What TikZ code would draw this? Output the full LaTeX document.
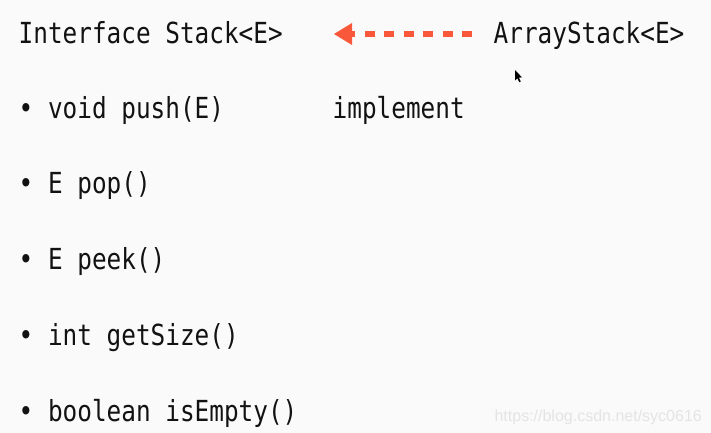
\documentclass[tikz,border=0pt]{standalone}
\usepackage{fontspec}
\usetikzlibrary{arrows.meta}
\newfontfamily\monofam[FakeStretch=0.84]{DejaVu Sans Mono}
\newfontfamily\wmfam{Liberation Sans}
\definecolor{bgc}{HTML}{FAFAFA}
\definecolor{txtc}{HTML}{121212}
\definecolor{arrc}{HTML}{F9583A}
\definecolor{wmc}{HTML}{E4E4E4}
\tikzset{
  codetext/.style={inner sep=0pt, anchor=base west, text=txtc, font=\monofam\fontsize{29}{29}\selectfont},
  wmtext/.style={inner sep=0pt, anchor=base east, text=wmc, font=\wmfam\fontsize{16}{16}\selectfont},
  implarrow/.style={draw=arrc, line width=6pt, dash pattern=on 10pt off 9.5pt,
    -{Triangle[length=18pt,width=22pt,line width=0pt]}}
}
\begin{document}
\begin{tikzpicture}[x=1pt,y=-1pt]
\fill[bgc] (0,0) rectangle (711,433);
\useasboundingbox (0,0) rectangle (711,433);
\node[codetext] (iface) at (18.5,44) {Interface Stack<E>};
\node[codetext] (impl) at (493.5,44) {ArrayStack<E>};
\node[codetext] (lbl) at (332.5,118) {implement};
\node[codetext] (m1) at (18.5,118) {• void push(E)};
\node[codetext] (m2) at (18.5,193.8) {• E pop()};
\node[codetext] (m3) at (18.5,269.5) {• E peek()};
\node[codetext] (m4) at (18.5,345.3) {• int getSize()};
\node[codetext] (m5) at (18.5,421) {• boolean isEmpty()};
\draw[implarrow] ([yshift=10pt]impl.base west) ++(-21.5,0) coordinate (as) (as) -- (as -| {334,0});
\node[wmtext] (wm) at (702,421) {https://blog.csdn.net/syc0616};
\fill[black] (515,70) -- (515,80.5) -- (517.3,78.3) -- (519.3,82.2) -- (520.8,81.4) -- (518.9,77.6) -- (522,77.4) -- cycle;
\end{tikzpicture}
\end{document}
